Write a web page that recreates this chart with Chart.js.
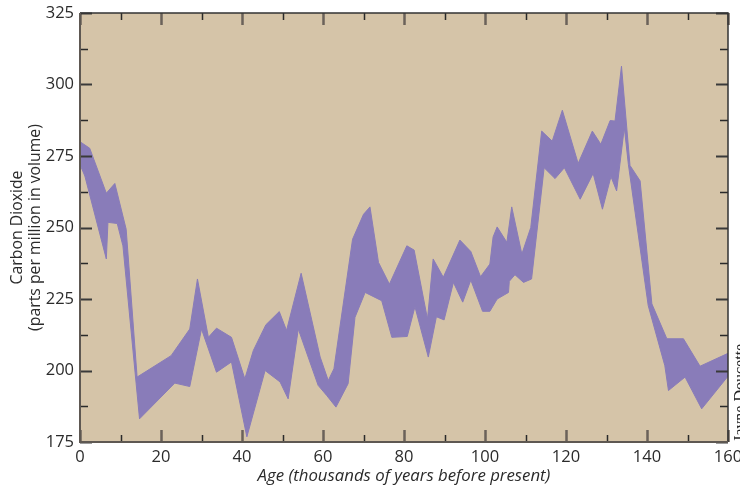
<!DOCTYPE html>
<html>
<head>
<meta charset="utf-8">
<script src="https://cdn.jsdelivr.net/npm/chart.js@4.4.0/dist/chart.umd.min.js"></script>
<style>
  html, body { margin: 0; background: #fff; }
  #wrap { width: 740px; height: 485px; position: relative; }
</style>
</head>
<body>
<div id="wrap"><canvas id="co2Chart"></canvas></div>
<script>
// upper edge of the CO2 band (age in kyr before present, ppmv)
const upperAge = [0, 2.4, 6.5, 8.6, 11.4, 14.1, 22.5, 27.1, 29, 31.7, 33.7, 37.4, 40.7, 42.8, 45.9, 49.2, 51, 54.6,
  59.3, 61.3, 62.7, 67.3, 70, 71.6, 73.7, 76.4, 80.7, 82.5, 85.8, 87.2, 89.7, 93.8, 96.5, 98.9, 101.2, 102, 103,
  105.4, 106.6, 109.1, 111.3, 114, 116.6, 119.1, 123, 126.5, 128.6, 130.9, 132.1, 133.7, 135.8, 138.3, 141.2,
  144.9, 149, 153.1, 160];
const upperCO2 = [280, 277.7, 262, 265.4, 249.4, 197.7, 205.2, 214.5, 232, 211.6, 214.8, 211.6, 197.1, 207, 216, 220.6, 214, 234,
  204.7, 196.5, 200.6, 245.9, 254.6, 257.2, 237.8, 230.2, 243.6, 242.1, 218, 239, 232.6, 245.6, 241.6, 232.8, 237.2, 246.7, 250.2,
  244.8, 257.2, 240.7, 250, 283.7, 280.2, 291, 272.4, 283.7, 279.1, 287.4, 287.2, 306.4, 271.7, 266.3, 223.3,
  211.1, 211.1, 201.5, 206];

// lower edge of the CO2 band
const lowerAge = [0, 1.2, 6.5, 6.9, 9.2, 10.6, 14.7, 23.4, 27.1, 30, 33.7, 37.4, 41.2, 45.7, 49.4, 51.4, 53.9, 58.8,
  60.9, 63.2, 66.2, 67.9, 70.4, 74.5, 77, 80.8, 82.7, 86, 88, 89.9, 92.2, 94.5, 96.5, 99.4, 101.2, 103, 105.8, 106,
  107.4, 109.5, 111.5, 114.6, 117.3, 119.6, 123.5, 126.7, 129, 131.1, 132.5, 134.4, 135.4, 140.3, 144.4, 145.3,
  149.4, 153.5, 160];
const lowerCO2 = [272, 268, 239, 251.8, 251.4, 243.6, 183.1, 195.6, 194.4, 214.5, 199.4, 203, 176.8, 200, 196, 190.1, 214.5, 194.8,
  191.3, 187.2, 195.4, 218.6, 227.3, 224.4, 211.6, 211.9, 222.3, 204.7, 218.8, 217.7, 230.8, 223.9, 231.6, 220.7, 220.7, 225, 227.3, 231.2,
  233.5, 230.8, 232, 270.9, 267.1, 270.9, 259.9, 268.9, 256.4, 267.8, 262.8, 284.9, 272.1, 222.7, 201.7, 193,
  197.7, 186.6, 198];

const ageTicks = [0, 20, 40, 60, 80, 100, 120, 140, 160];
const co2Ticks = [175, 200, 225, 250, 275, 300, 325];

const bandColor = 'rgb(137, 124, 185)';
const plotBg = 'rgb(213, 196, 168)';

const toPoints = (xs, ys) => xs.map((x, i) => ({x, y: ys[i]}));

// background, frame, inward ticks on all four sides, credit line
const frameTicks = {
  id: 'frameTicks',
  beforeDraw(chart) {
    const {ctx, chartArea: a} = chart;
    ctx.save();
    ctx.fillStyle = plotBg;
    ctx.fillRect(a.left, a.top, a.right - a.left, a.bottom - a.top);
    ctx.restore();
  },
  afterDraw(chart) {
    const {ctx, chartArea: a, scales: {x, y}} = chart;
    ctx.save();
    for (let v = 0; v <= 160; v += 10) {
      const px = Math.round(x.getPixelForValue(v)) + 0.5;
      const major = v % 20 === 0;
      ctx.strokeStyle = major ? '#6b625a' : '#2a2a2a';
      ctx.lineWidth = major ? 2.5 : 1.5;
      const len = major ? 12 : 7;
      ctx.beginPath();
      ctx.moveTo(px, a.bottom); ctx.lineTo(px, a.bottom - len);
      ctx.moveTo(px, a.top); ctx.lineTo(px, a.top + len);
      ctx.stroke();
    }
    for (let v = 175; v <= 325; v += 12.5) {
      const py = Math.round(y.getPixelForValue(v)) + 0.5;
      const major = v % 25 === 0;
      ctx.strokeStyle = major ? '#3a3a3a' : '#2a2a2a';
      ctx.lineWidth = major ? 1.8 : 1.5;
      const len = major ? 12 : 8;
      ctx.beginPath();
      ctx.moveTo(a.left, py); ctx.lineTo(a.left + len, py);
      ctx.moveTo(a.right, py); ctx.lineTo(a.right - len, py);
      ctx.stroke();
    }
    ctx.strokeStyle = '#333';
    ctx.lineWidth = 1.5;
    ctx.beginPath();
    ctx.moveTo(a.left, a.top); ctx.lineTo(a.right, a.top); ctx.lineTo(a.right, a.bottom);
    ctx.stroke();
    ctx.strokeStyle = '#5e5852';
    ctx.lineWidth = 2;
    ctx.beginPath();
    ctx.moveTo(a.left, a.top); ctx.lineTo(a.left, a.bottom); ctx.lineTo(a.right, a.bottom);
    ctx.stroke();

    ctx.translate(a.right + 17, a.bottom);
    ctx.rotate(-Math.PI / 2);
    ctx.font = '16px "Liberation Serif"';
    ctx.fillStyle = '#222';
    ctx.textAlign = 'left';
    ctx.textBaseline = 'alphabetic';
    ctx.fillText('Jayne Doucette', 0, 0);
    ctx.restore();
  }
};

const canvas = document.getElementById('co2Chart');
const co2Chart = new Chart(canvas, {
  type: 'line',
  data: {
    datasets: [{
      label: 'upper',
      data: toPoints(upperAge, upperCO2),
      borderColor: bandColor,
      backgroundColor: bandColor,
      borderWidth: 1,
      pointRadius: 0,
      tension: 0,
      fill: '+1'
    }, {
      label: 'lower',
      data: toPoints(lowerAge, lowerCO2),
      borderColor: bandColor,
      borderWidth: 1,
      pointRadius: 0,
      tension: 0,
      fill: false
    }]
  },
  options: {
    responsive: true,
    maintainAspectRatio: false,
    animation: false,
    layout: { padding: { top: 13, right: 12, left: 0, bottom: 0 } },
    plugins: {
      legend: { display: false },
      tooltip: { enabled: false }
    },
    scales: {
      x: {
        type: 'linear',
        min: 0,
        max: 160,
        afterBuildTicks: s => { s.ticks = ageTicks.map(v => ({value: v})); },
        afterFit: s => { s.height = 43; s.paddingLeft = 0; s.paddingRight = 0; },
        grid: { display: false, drawTicks: false },
        border: { display: false },
        ticks: {
          color: '#2b2b2b',
          padding: 5,
          maxRotation: 0,
          font: { family: '"Open Sans"', size: 16.5 }
        },
        title: {
          display: true,
          text: 'Age (thousands of years before present)',
          color: '#2b2b2b',
          padding: { top: 0, bottom: 0 },
          font: { family: '"Open Sans"', size: 16.8, style: 'italic', lineHeight: 1.0 }
        }
      },
      y: {
        min: 175,
        max: 325,
        afterBuildTicks: s => { s.ticks = co2Ticks.map(v => ({value: v})); },
        afterFit: s => { s.width = 80; s.paddingTop = 0; s.paddingBottom = 0; },
        grid: { display: false, drawTicks: false },
        border: { display: false },
        ticks: {
          color: '#2b2b2b',
          padding: 6,
          font: { family: '"Open Sans"', size: 16.5 }
        },
        title: {
          display: true,
          text: ['Carbon Dioxide', '(parts per million in volume)'],
          color: '#2b2b2b',
          padding: { top: 8, bottom: 0 },
          font: { family: '"Open Sans"', size: 15.8, lineHeight: 1.15 }
        }
      }
    }
  },
  plugins: [frameTicks]
});
</script>
</body>
</html>
